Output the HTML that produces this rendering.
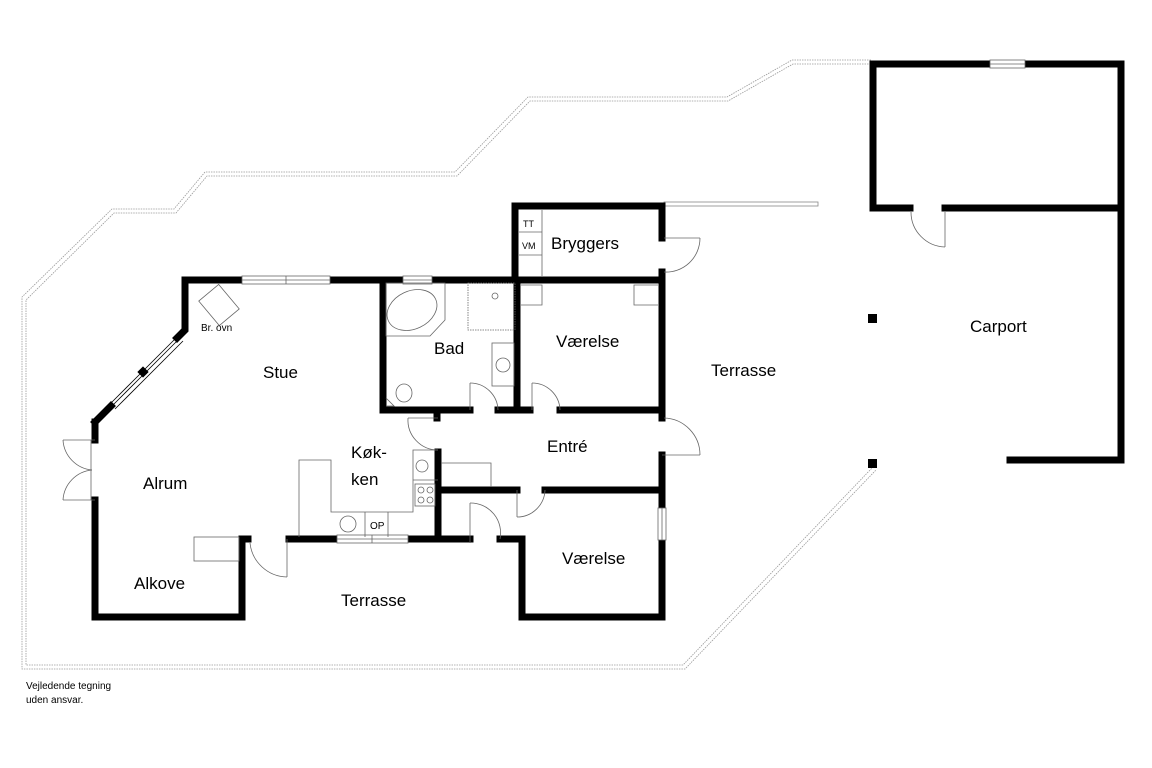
<!DOCTYPE html>
<html><head><meta charset="utf-8"><style>
html,body{margin:0;padding:0;background:#fff;width:1152px;height:768px;overflow:hidden}
svg{display:block}
text{font-family:"Liberation Sans",sans-serif;fill:#000}
</style></head><body>
<svg width="1152" height="768" viewBox="0 0 1152 768">
<g fill="none" stroke="#999" stroke-width="0.8" stroke-dasharray="1.5 1">
<polyline points="871,60 792,60 727,97 528,97 455,172 205,172 174,209 112,209 22,297 22,669 685,669 876,470"/>
<polyline points="871,64 793,64 728,101 530,101 457,176 207,176 176,213 114,213 26,300 26,665 683,665 872,468"/>
</g>
<rect x="664" y="202" width="154" height="4" fill="#fff" stroke="#888" stroke-width="0.8"/>
<g fill="none" stroke="#000" stroke-width="7" stroke-linecap="square" stroke-linejoin="miter">
<polyline points="242,280 185,280 185,330 177,338"/>
<line x1="111" y1="406" x2="95" y2="422"/>
<polyline points="95,422 95,440"/>
<polyline points="95,500 95,617 242,617 242,539 248,539"/>
<line x1="289" y1="539" x2="337" y2="539"/>
<line x1="408" y1="539" x2="470" y2="539"/>
<polyline points="500,539 522,539 522,617 662,617 662,540"/>
<line x1="662" y1="508" x2="662" y2="455"/>
<line x1="662" y1="418" x2="662" y2="272"/>
<polyline points="662,238 662,206 515,206 515,280"/>
<line x1="330" y1="280" x2="403" y2="280"/>
<line x1="432" y1="280" x2="662" y2="280"/>
<polyline points="383,280 383,410 470,410"/>
<line x1="498" y1="410" x2="530" y2="410"/>
<line x1="560" y1="410" x2="662" y2="410"/>
<line x1="517" y1="280" x2="517" y2="410"/>
<line x1="437" y1="410" x2="437" y2="418"/>
<line x1="438" y1="452" x2="438" y2="539"/>
<line x1="441" y1="490" x2="517" y2="490"/>
<line x1="545" y1="490" x2="662" y2="490"/>
<polyline points="990,64 873,64 873,208 910,208"/>
<line x1="945" y1="208" x2="1121" y2="208"/>
<polyline points="1025,64 1121,64 1121,460 1010,460"/>
</g>
<rect x="868" y="314" width="9" height="9" fill="#000"/>
<rect x="868" y="459" width="9" height="9" fill="#000"/>
<g stroke="#000" stroke-width="0.8" fill="none">
<line x1="178" y1="336" x2="110" y2="404"/><line x1="183" y1="341" x2="115" y2="409"/>
<line x1="180" y1="338" x2="112" y2="406"/>
</g>
<rect x="139" y="368" width="8" height="8" transform="rotate(45 143 372)" fill="#000"/>
<g fill="#fff" stroke="#666" stroke-width="0.8">
<rect x="242" y="276" width="88" height="8"/><line x1="242" y1="280" x2="330" y2="280"/><line x1="286" y1="276" x2="286" y2="284"/>
<rect x="403" y="276" width="29" height="8"/><line x1="403" y1="280" x2="432" y2="280"/>
<rect x="337" y="535" width="71" height="8"/><line x1="337" y1="539" x2="408" y2="539"/><line x1="372" y1="535" x2="372" y2="543"/>
<rect x="658" y="508" width="8" height="32"/><line x1="662" y1="508" x2="662" y2="540"/>
<rect x="990" y="60" width="35" height="8"/><line x1="990" y1="64" x2="1025" y2="64"/>
</g>
<g fill="none" stroke="#666" stroke-width="0.8">
<line x1="95" y1="440" x2="63" y2="440"/><path d="M63,440 A32,32 0 0 0 92,470"/>
<line x1="95" y1="500" x2="63" y2="500"/><path d="M63,500 A32,32 0 0 1 92,470"/>
<line x1="91" y1="440" x2="91" y2="500"/>
<line x1="287" y1="539" x2="287" y2="577"/><path d="M287,577 A38,38 0 0 1 250,543"/>
<line x1="470" y1="543" x2="470" y2="503"/><path d="M470,503 A30,30 0 0 1 500,539"/>
<line x1="470" y1="410" x2="470" y2="383"/><path d="M470,383 A28,28 0 0 1 498,410"/>
<line x1="532" y1="410" x2="532" y2="383"/><path d="M532,383 A28,28 0 0 1 560,410"/>
<line x1="438" y1="418" x2="408" y2="418"/><path d="M408,418 A30,30 0 0 0 438,450"/>
<line x1="517" y1="490" x2="517" y2="517"/><path d="M517,517 A28,28 0 0 0 545,490"/>
<line x1="662" y1="455" x2="700" y2="455"/><path d="M700,455 A37,37 0 0 0 664,418"/>
<line x1="664" y1="238" x2="700" y2="238"/><path d="M700,238 A34,34 0 0 1 664,272"/>
<line x1="945" y1="212" x2="945" y2="247"/><path d="M945,247 A35,35 0 0 1 911,212"/>
<polyline points="299,537 299,460 331,460 331,512 413,512 413,450 438,450"/>
<line x1="413" y1="480" x2="438" y2="480"/>
<line x1="365" y1="512" x2="365" y2="537"/><line x1="388" y1="512" x2="388" y2="537"/>
<circle cx="348" cy="524" r="8"/><circle cx="422" cy="466" r="6"/>
<rect x="415" y="484" width="20" height="22"/><circle cx="421" cy="490" r="3"/><circle cx="430" cy="490" r="3"/><circle cx="421" cy="500" r="3"/><circle cx="430" cy="500" r="3"/>
<polyline points="441,463 491,463 491,487"/>
<rect x="194" y="537" width="45" height="24"/>
<rect x="206" y="289" width="26" height="32" transform="rotate(-40 219 305)"/>
<polygon points="386,283 445,283 445,320 430,336 386,336"/>
<ellipse cx="412" cy="310" rx="26" ry="19" transform="rotate(-25 412 310)"/>
<ellipse cx="404" cy="393" rx="8" ry="9"/><path d="M386,398 L394,406 L386,406"/>
<rect x="492" y="343" width="22" height="43"/><circle cx="503" cy="365" r="7"/>
<rect x="468" y="283" width="47" height="47" stroke-dasharray="1.5 1"/>
<circle cx="495" cy="296" r="3"/>
<line x1="542" y1="210" x2="542" y2="276"/><line x1="519" y1="232" x2="542" y2="232"/><line x1="519" y1="255" x2="542" y2="255"/>
<polyline points="521,285 542,285 542,305 521,305"/>
<polyline points="658,285 634,285 634,305 658,305"/>
</g>
<g font-size="17">
<text x="263" y="378">Stue</text>
<text x="143" y="489">Alrum</text>
<text x="134" y="589">Alkove</text>
<text x="341" y="606">Terrasse</text>
<text x="434" y="354">Bad</text>
<text x="556" y="347">Værelse</text>
<text x="711" y="376">Terrasse</text>
<text x="547" y="452">Entré</text>
<text x="562" y="564">Værelse</text>
<text x="551" y="249">Bryggers</text>
<text x="351" y="458">Køk-</text>
<text x="351" y="485">ken</text>
<text x="970" y="332">Carport</text>
</g>
<text x="201" y="331" font-size="10">Br. ovn</text>
<text x="523" y="227" font-size="9">TT</text>
<text x="522" y="249" font-size="9">VM</text>
<text x="370" y="529" font-size="10">OP</text>
<text x="26" y="689" font-size="10">Vejledende tegning</text>
<text x="26" y="703" font-size="10">uden ansvar.</text>
</svg>
</body></html>
